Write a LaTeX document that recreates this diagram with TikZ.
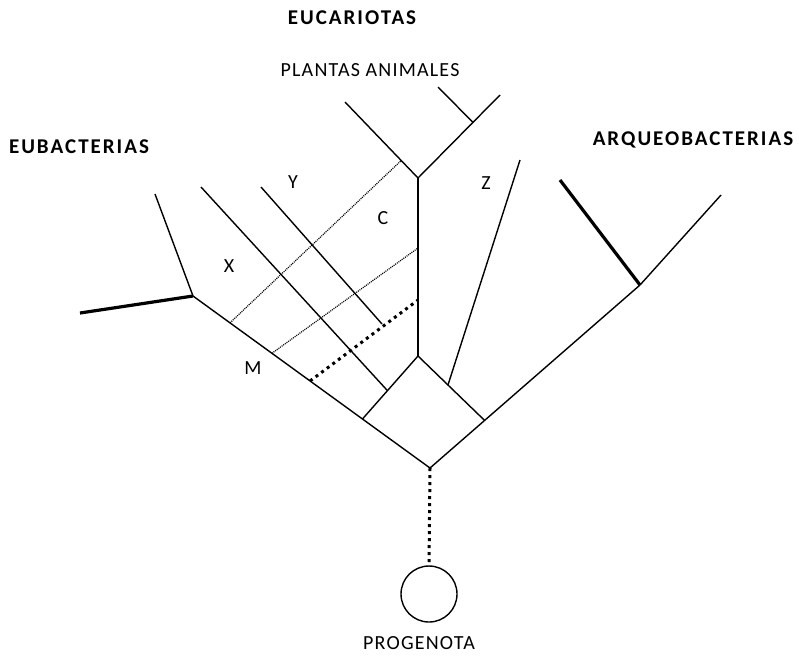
\documentclass[tikz,border=0pt]{standalone}
\usepackage{fontspec}
\setmainfont{Carlito}
\usetikzlibrary{calc}
\begin{document}
\begin{tikzpicture}[x=1pt,y=-1pt,
  br/.style={line width=1.4pt},
  thk/.style={line width=3.2pt},
  fdot/.style={line width=1.2pt, dash pattern=on 1pt off 1pt},
  bdot/.style={line width=3pt, dash pattern=on 3pt off 4pt},
  ttl/.style={font=\fontsize{21}{24}\selectfont\bfseries\addfontfeatures{LetterSpace=9.5}},
  lbl/.style={font=\fontsize{20}{22}\selectfont\addfontfeatures{LetterSpace=6}}]
\useasboundingbox (0,0) rectangle (799,657);
% main points
\coordinate (root) at (430,468);
\coordinate (eb) at (193,296);
\coordinate (ebT) at (80,313);
\coordinate (ebU) at (155,194);
\coordinate (ar) at (640,285);
\coordinate (arT) at (560,180);
\coordinate (arU) at (721,195);
\coordinate (dt) at (418,356);
\coordinate (dl) at ($(root)!0.285!(eb)$);
\coordinate (dr) at ($(root)!0.26!(ar)$);
\coordinate (aEnd) at ($(dl)!0.45!(dt)$);
\coordinate (aTop) at (201,187);
\coordinate (bTop) at (261,187);
\coordinate (bEnd) at (382,324);
\coordinate (vTop) at (418,178);
\coordinate (pl) at (345,102);
\coordinate (an) at (500,95);
\coordinate (anj) at ($(vTop)!0.67!(an)$);
\coordinate (anL) at (438,87);
\coordinate (m1) at ($(root)!0.844!(eb)$);
\coordinate (d1) at ($(vTop)!0.23!(pl)$);
\coordinate (m2) at ($(root)!0.667!(eb)$);
\coordinate (d2) at (418,248);
\coordinate (m3) at ($(root)!0.506!(eb)$);
\coordinate (d3) at (418,300);
\coordinate (zb) at ($(dt)!0.45!(dr)$);
\coordinate (zt) at (520,160);
\node[circle, draw, line width=1.4pt, minimum size=56pt, inner sep=0pt] (prog) at (429,594) {};
% tree
\draw[br] (eb) -- (root) -- (ar);
\draw[thk] (eb) -- (ebT);
\draw[br] (eb) -- (ebU);
\draw[thk] (ar) -- (arT);
\draw[br] (ar) -- (arU);
\draw[br] (dl) -- (dt) -- (dr);
\draw[br] (dt) -- (vTop);
\draw[br] (pl) -- (vTop) -- (an);
\draw[br] (anj) -- (anL);
\draw[br] (aTop) -- (aEnd);
\draw[br] (bTop) -- (bEnd);
\draw[br] (zb) -- (zt);
\draw[fdot] (m1) -- (d1);
\draw[fdot] (m2) -- (d2);
\draw[bdot] (m3) -- (d3);
\draw[bdot] (root) -- (prog.north);
% labels
\node[ttl] (euc) at (352,18) {EUCARIOTAS};
\node[lbl] (pa) at (370,70) {PLANTAS ANIMALES};
\node[ttl] (eub) at (79,147) {EUBACTERIAS};
\node[ttl] (arq) at (693,140) {ARQUEOBACTERIAS};
\node[lbl] (pg) at (419,643) {PROGENOTA};
\node[lbl] (lx) at (229,266) {X};
\node[lbl] (ly) at (293,182) {Y};
\node[lbl] (lc) at (383,218) {C};
\node[lbl] (lz) at (486,183) {Z};
\node[lbl] (lm) at (253,368) {M};
\end{tikzpicture}
\end{document}
